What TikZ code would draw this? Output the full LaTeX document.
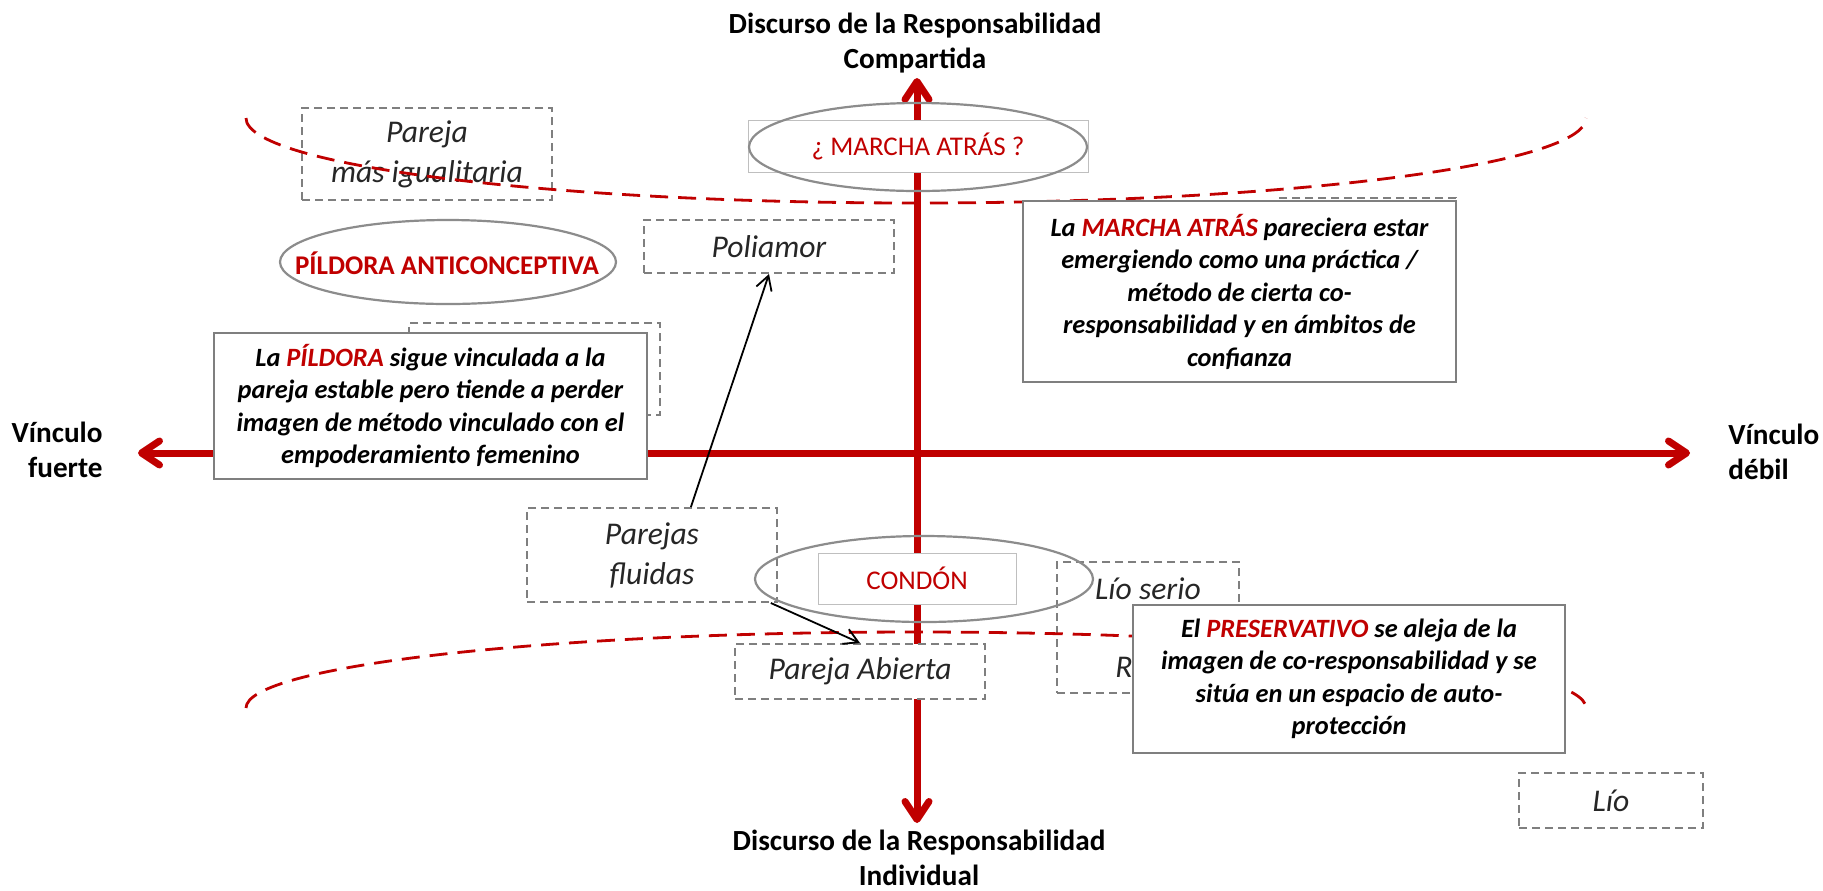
\documentclass[tikz,border=0pt]{standalone}
\usepackage{fontspec}
\setmainfont{Carlito}
\usepackage{xcolor}
\usepackage{tikz}
\usetikzlibrary{arrows.meta}
\usetikzlibrary{shapes.geometric}
\definecolor{rojo}{HTML}{C00000}
\definecolor{gris}{HTML}{7F7F7F}
\definecolor{grisclaro}{HTML}{BFBFBF}
\newcommand{\rojo}[1]{\textcolor{rojo}{#1}}
\newcommand{\fuenteCaja}{\fontsize{15.8pt}{20pt}\selectfont\itshape}
\newcommand{\fuenteTexto}{\fontsize{13.2pt}{16.25pt}\selectfont\bfseries\itshape}
\newcommand{\fuenteEtiq}{\fontsize{13.5pt}{16pt}\selectfont}
\newcommand{\fuenteEje}{\fontsize{14.6pt}{17.5pt}\selectfont\bfseries}
\tikzset{
  eje/.style = {draw=rojo, line width=3.5pt, >={Straight Barb[length=9pt,width=12pt,round]}},
  curva/.style = {draw=rojo, line width=1.4pt, dash pattern=on 9pt off 5pt},
  dbox/.style = {draw=gris, line width=1pt, dash pattern=on 4pt off 2.5pt, fill=white, inner sep=0pt, font=\fuenteCaja, text=black!85, align=center},
  sbox/.style = {draw=gris, line width=1.3pt, fill=white, inner sep=0pt, font=\fuenteTexto, align=center},
  elip/.style = {ellipse, draw=gris!90, line width=1.1pt, inner sep=0pt},
  etiq/.style = {draw=grisclaro, line width=0.5pt, fill=white, inner sep=0pt, font=\fuenteEtiq, text=rojo},
  flecha/.style = {draw=black, line width=0.9pt, -{Straight Barb[length=7pt,width=8pt]}},
  rotulo/.style = {inner sep=0pt, font=\fuenteEje, align=center}
}

\begin{document}
\begin{tikzpicture}[x=0.5pt, y=-0.5pt]
\useasboundingbox [fill=white] (0,0) rectangle (1823,890);
% ejes
\coordinate (ejeO) at (138,453);
\coordinate (ejeE) at (1690,453);
\coordinate (ejeN) at (917,78);
\coordinate (ejeS) at (917,823);
\draw [eje, <->] (ejeO) -- (ejeE);
\draw [eje, <->] (ejeN) -- (ejeS);
% cajas punteadas
\node [dbox, minimum width=125pt, minimum height=46pt] (igual) at (427,154) {Pareja\\más igualitaria};
\node [dbox, minimum width=125pt, minimum height=26.5pt] (poli) at (769,246.5) {Poliamor};
\node [dbox, minimum width=125.5pt, minimum height=46pt] (ocultaO) at (534.5,369) {};
\node [dbox, minimum width=89.5pt, minimum height=27.5pt] (ocultaE) at (1366.5,225.5) {};
\node [dbox, minimum width=125pt, minimum height=47pt] (fluidas) at (652,555) {Parejas\\fluidas};
\node [dbox, minimum width=125pt, minimum height=27.5pt] (abierta) at (860,671.5) {Pareja Abierta};
\node [dbox, minimum width=91pt, minimum height=65.5pt] (serio) at (1148,627.5) {};
\node [inner sep=0pt, font=\fuenteCaja, text=black!85] (serioA) at (1148,589) {Lío serio};
\node [inner sep=0pt, font=\fuenteCaja, text=black!85] (serioB) at (1124,667) {R};
\node [dbox, minimum width=92pt, minimum height=27.5pt] (lio) at (1611,800.5) {Lío};
% curvas
\draw [curva] (246,118) .. controls (246,165) and (546,203) .. (916,203)
  .. controls (1286,203) and (1586,165) .. (1586,118);
\draw [curva] (246,708) .. controls (246,666) and (546,632) .. (916,632)
  .. controls (1286,632) and (1586,666) .. (1586,708);
% metodos
\node [etiq, minimum width=170pt, minimum height=26pt] (marcha) at (918,146) {¿ MARCHA ATRÁS ?};
\node [elip, minimum width=169pt, minimum height=44pt] (marchaE) at (918,147) {};
\node [elip, minimum width=168pt, minimum height=42pt] (pildoraE) at (448,262) {};
\node [inner sep=0pt, font=\fuenteEtiq\bfseries, text=rojo] (pildora) at (447,263) {PÍLDORA ANTICONCEPTIVA};
\node [etiq, minimum width=99pt, minimum height=25.5pt] (condon) at (917,578.5) {CONDÓN};
\node [elip, minimum width=169pt, minimum height=43pt] (condonE) at (924,579) {};
% textos
\node [sbox, minimum width=216.5pt, minimum height=73pt] (txtPildora) at (430.5,406)
  {La \rojo{PÍLDORA} sigue vinculada a la\\pareja estable pero tiende a perder\\imagen de método vinculado con el\\empoderamiento femenino};
\node [sbox, minimum width=216.5pt, minimum height=90.5pt] (txtMarcha) at (1239.5,291.5)
  {La \rojo{MARCHA ATRÁS} pareciera estar\\emergiendo como una práctica /\\método de cierta co-\\responsabilidad y en ámbitos de\\confianza};
\node [sbox, minimum width=216pt, minimum height=74pt] (txtPreserv) at (1349,679)
  {El \rojo{PRESERVATIVO} se aleja de la\\imagen de co-responsabilidad y se\\sitúa en un espacio de auto-\\protección};
% flechas
\draw [flecha] (fluidas.51) -- (poli.south);
\draw [flecha] (fluidas.-22) -- (abierta.north);
% rotulos de los ejes
\node [rotulo, anchor=base] (norte) at (915,68) {Discurso de la Responsabilidad\\Compartida};
\node [rotulo, anchor=base] (sur) at (919,885) {Discurso de la Responsabilidad\\Individual};
\node [rotulo, align=right, anchor=base east] (oeste) at (103,477) {Vínculo\\fuerte};
\node [rotulo, align=left, anchor=base west] (este) at (1728,479) {Vínculo\\débil};
\end{tikzpicture}
\end{document}
